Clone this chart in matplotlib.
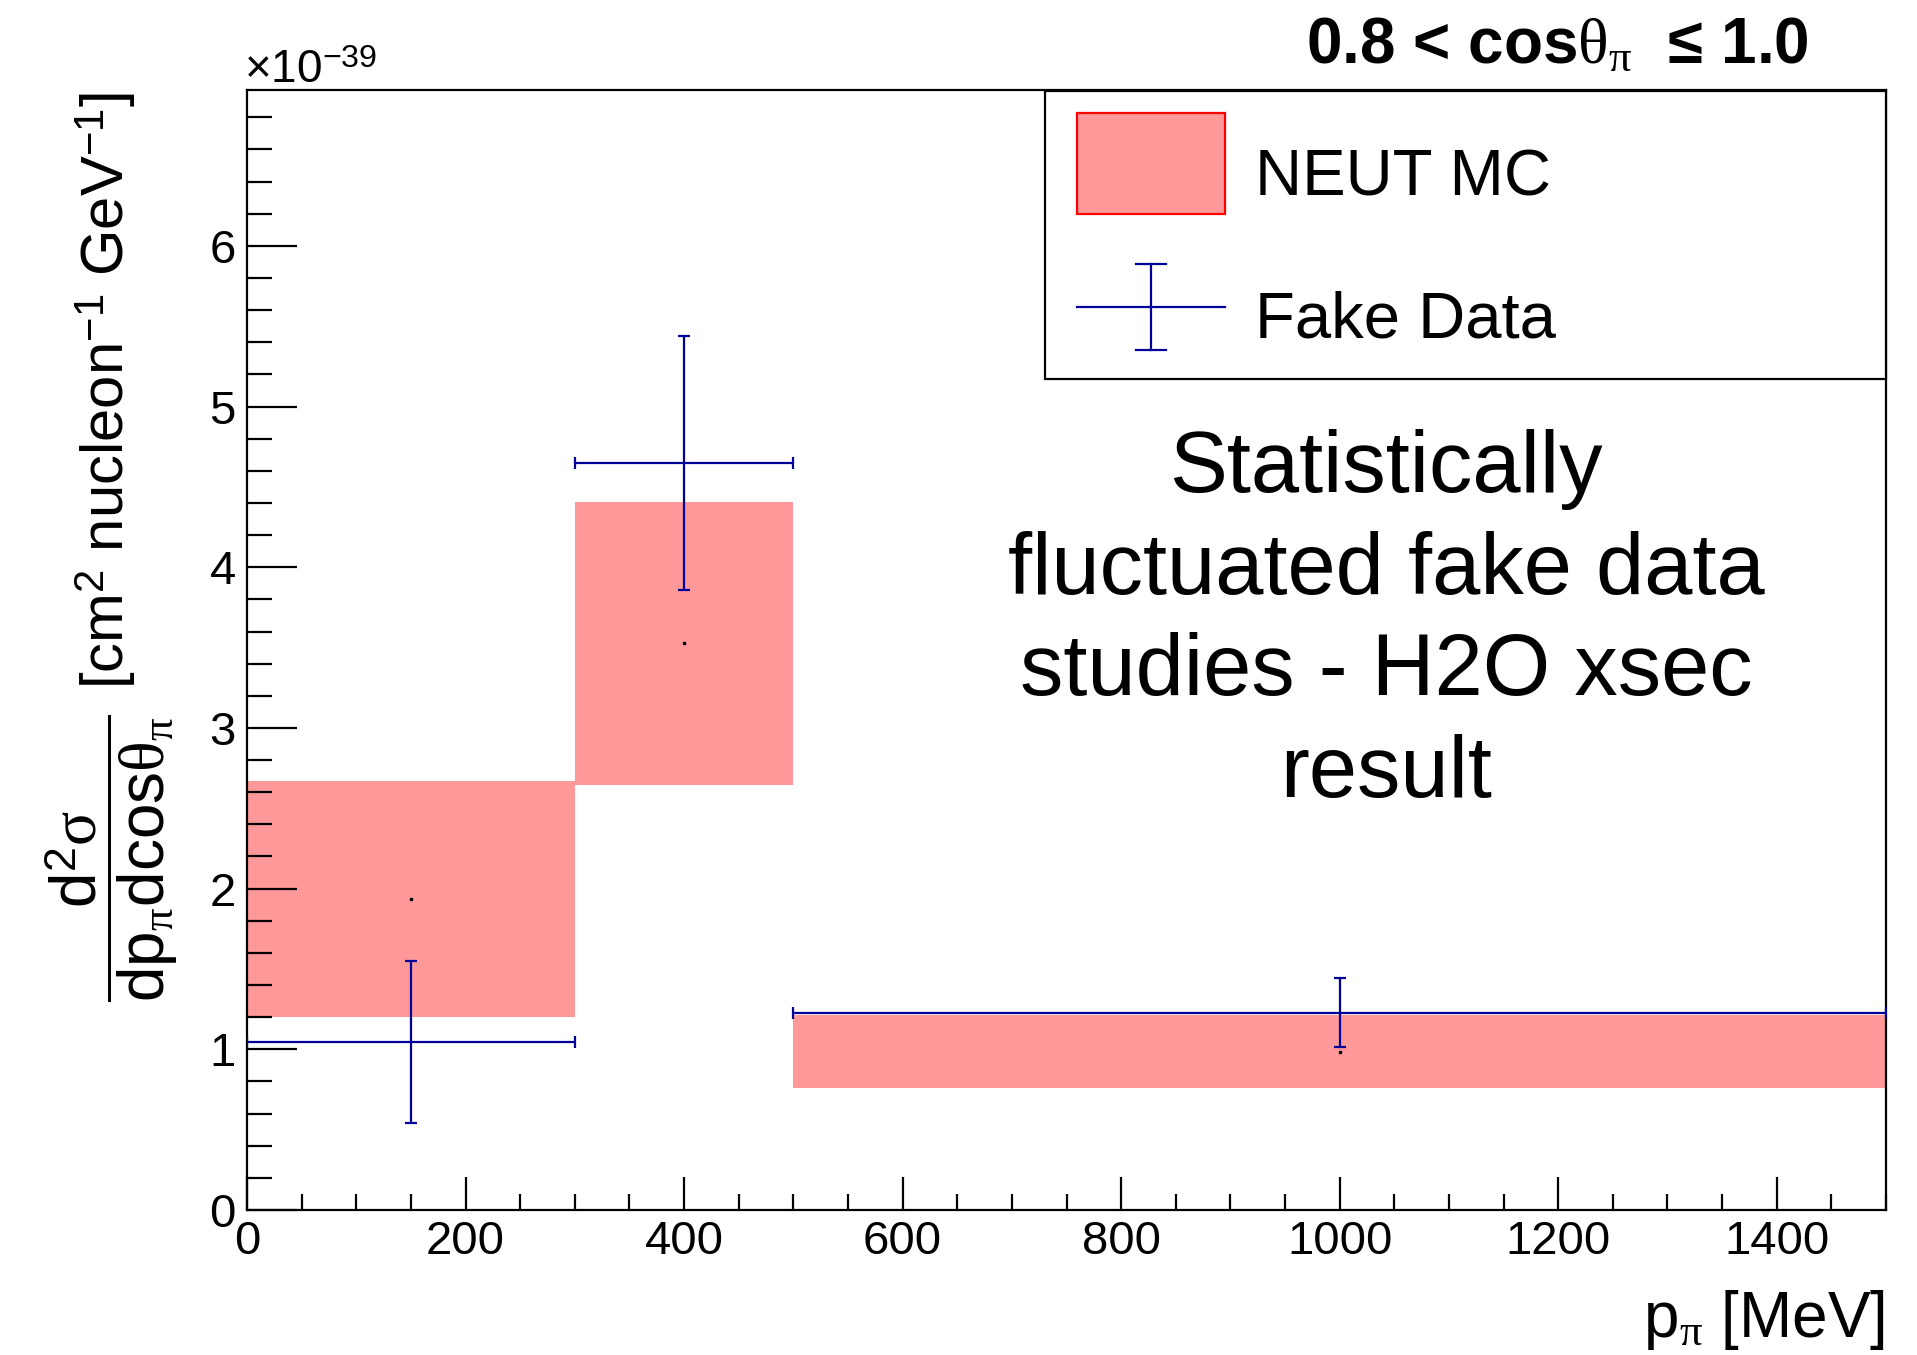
import matplotlib.pyplot as plt
from matplotlib.patches import Rectangle
from matplotlib.lines import Line2D
from matplotlib.ticker import MultipleLocator

plt.rcParams['font.family'] = ['Liberation Sans', 'DejaVu Sans']
plt.rcParams['mathtext.fontset'] = 'custom'
plt.rcParams['mathtext.rm'] = 'Liberation Sans'
plt.rcParams['mathtext.it'] = 'Liberation Serif'
plt.rcParams['mathtext.bf'] = 'Liberation Sans:bold'

# p_pi bins [MeV]
bin_edges = [0, 300, 500, 1500]
bin_centers = [150, 400, 1000]
# NEUT MC (x 1e-39): central value and band half-height
mc_value = [1.935, 3.526, 0.986]
mc_err = [0.735, 0.880, 0.229]
# fake data (x 1e-39)
data_value = [1.043, 4.650, 1.228]
data_err = [0.504, 0.790, 0.215]

W, H = 1917, 1355
def px(x, y):
    # pixel position -> figure fraction
    return x / W, 1 - y / H

mc_col = '#ff9999'
data_col = '#000099'

fig = plt.figure(figsize=(W / 100, H / 100), dpi=100)
ax = fig.add_axes([247 / W, 1 - 1210 / H, (1886 - 247) / W, (1210 - 90) / H])

widths = [bin_edges[i + 1] - bin_edges[i] for i in range(len(bin_centers))]
half_w = [w / 2 for w in widths]
lows = [v - e for v, e in zip(mc_value, mc_err)]
ax.bar(bin_edges[:-1], [2 * e for e in mc_err], bottom=lows, width=widths,
       align='edge', color=mc_col, linewidth=0, zorder=1)
ax.plot(bin_centers, mc_value, 's', color='black', ms=1.8, zorder=2)
ax.errorbar(bin_centers, data_value, xerr=half_w, yerr=data_err, fmt='none',
            ecolor=data_col, elinewidth=1.6, capsize=4.5, capthick=1.6, zorder=3)

ax.set_xlim(0, 1500)
ax.set_ylim(0, 6.97)
ax.xaxis.set_major_locator(MultipleLocator(200))
ax.xaxis.set_minor_locator(MultipleLocator(50))
ax.yaxis.set_major_locator(MultipleLocator(1))
ax.yaxis.set_minor_locator(MultipleLocator(0.2))
ax.tick_params(axis='both', which='both', direction='in', width=1.6,
               top=False, right=False, labelsize=34)
ax.tick_params(axis='x', which='major', length=24, pad=7)
ax.tick_params(axis='x', which='minor', length=11.5)
ax.tick_params(axis='y', which='major', length=36, pad=8)
ax.tick_params(axis='y', which='minor', length=18)
for s in ax.spines.values():
    s.set_linewidth(1.6)

# exponent label
fig.text(*px(244, 83), r'$\times$10$^{-39}$', fontsize=33, ha='left', va='baseline')

# title
fig.text(*px(1809, 63), r'0.8 < cos$\theta_{\pi}$  ≤ 1.0', fontsize=46,
         fontweight='bold', ha='right', va='baseline')

# axis titles
fig.text(*px(1885, 1337), r'p$_{\pi}$ [MeV]', fontsize=46, ha='right', va='baseline')
fig.text(*px(111, 858),
         r'$\dfrac{\mathrm{d}^{2}\sigma}{\mathrm{dp}_{\pi}\mathrm{dcos}\theta_{\pi}}$',
         fontsize=46, rotation=90, ha='center', va='center')
fig.text(*px(106, 92), r'[cm$^{2}$ nucleon$^{-1}$ GeV$^{-1}$]', fontsize=43,
         rotation=90, ha='center', va='top')

# legend
x0, y0 = px(1045, 379)
x1, y1 = px(1886, 91)
fig.add_artist(Rectangle((x0, y0), x1 - x0, y1 - y0, transform=fig.transFigure,
                         facecolor='white', edgecolor='black', linewidth=1.6, zorder=5))
bx0, by0 = px(1077, 214)
bx1, by1 = px(1225, 113)
fig.add_artist(Rectangle((bx0, by0), bx1 - bx0, by1 - by0, transform=fig.transFigure,
                         facecolor=mc_col, edgecolor='red', linewidth=1.6, zorder=6))
fig.text(*px(1255, 195), 'NEUT MC', fontsize=47, ha='left', va='baseline', zorder=6)
lx0, ly = px(1077, 307)
lx1, _ = px(1225, 307)
cx, ytop = px(1151, 264)
_, ybot = px(1151, 350)
cw = 15 / W
for xs, ys in [([lx0, lx1], [ly, ly]), ([cx, cx], [ybot, ytop]),
               ([cx - cw, cx + cw], [ytop, ytop]), ([cx - cw, cx + cw], [ybot, ybot])]:
    fig.add_artist(Line2D(xs, ys, transform=fig.transFigure, color=data_col,
                          linewidth=1.6, zorder=6))
fig.text(*px(1255, 337), 'Fake Data', fontsize=47, ha='left', va='baseline', zorder=6)

# annotation
fig.text(*px(1386, 622), 'Statistically\nfluctuated fake data\nstudies - H2O xsec\nresult',
         fontsize=62.5, ha='center', va='center', multialignment='center', linespacing=1.33)

fig.savefig('out.png', dpi=100)
